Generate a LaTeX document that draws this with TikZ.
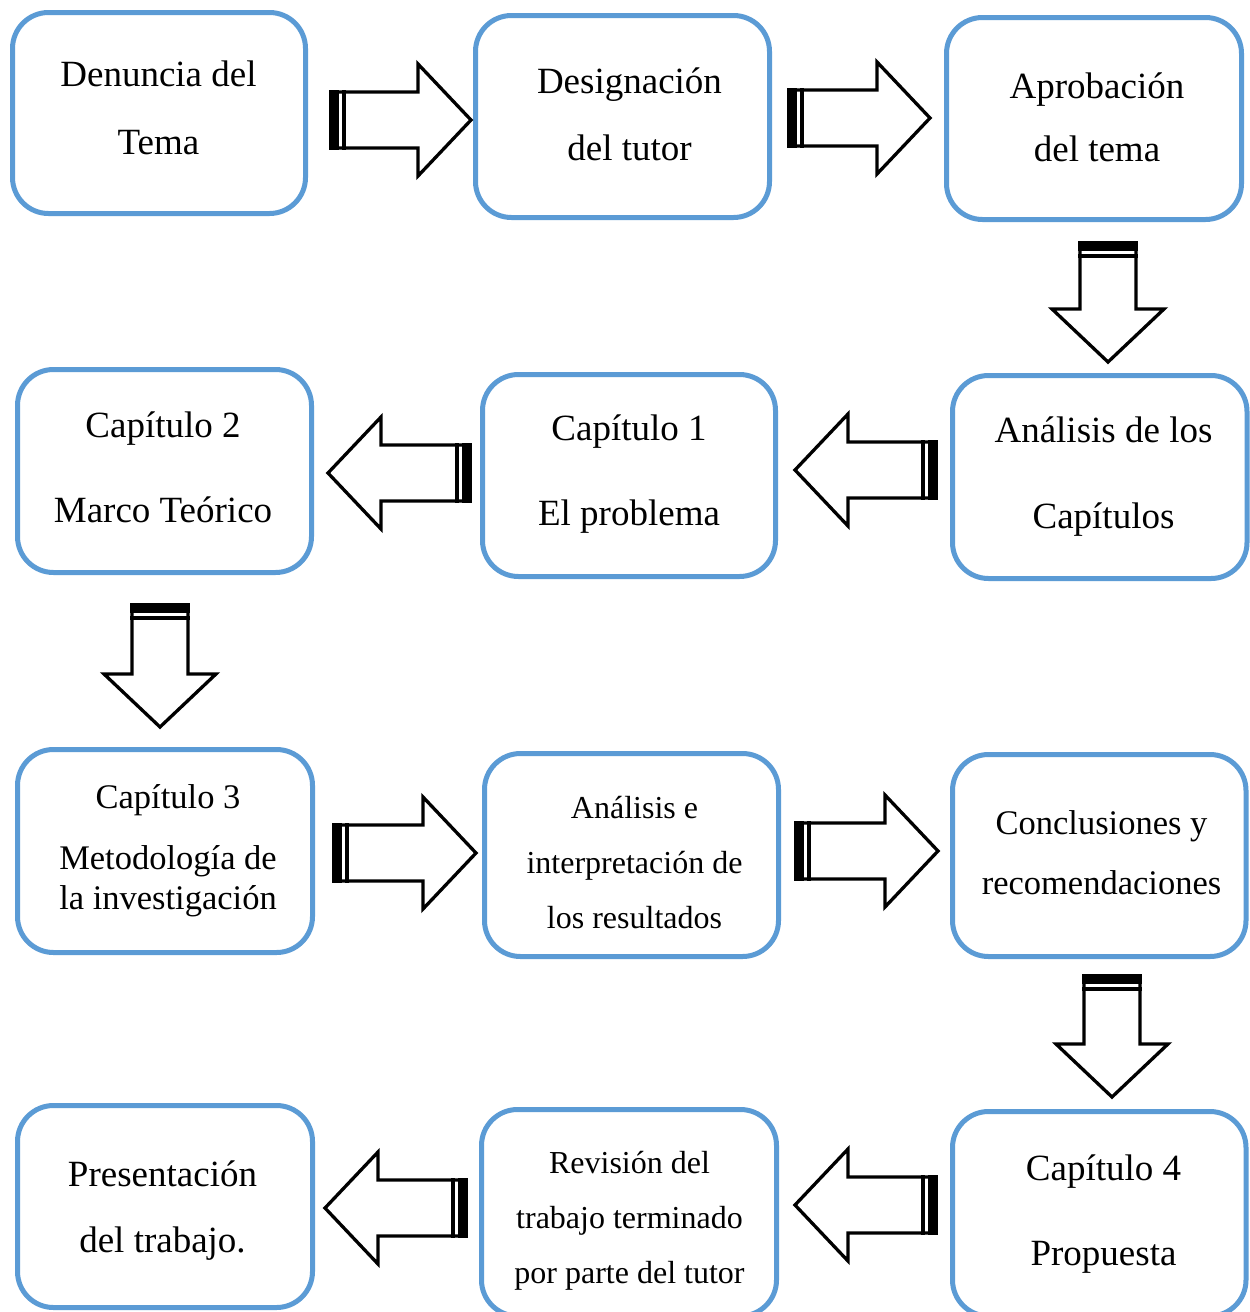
\documentclass[tikz,border=0pt]{standalone}
\usepackage{fontspec}
\setmainfont{Liberation Serif}
\definecolor{boxblue}{HTML}{5B9BD5}
\tikzset{
  box/.style={draw=boxblue, line width=5pt, rounded corners=36pt, fill=white, inner sep=0pt},
  lbl/.style={align=center, inner sep=0pt},
  arrline/.style={draw=black, line width=3.3pt, fill=white, line join=miter, miter limit=10}
}
\newcommand\blockarr[4]{% name, tip, angle, length
  \coordinate (#1) at (#2);
  \begin{scope}[shift={(#1)}, rotate=#3]
    \path[arrline] (0,0) -- (-53,56) -- (-53,28) -- (-#4,28) -- (-#4,-28) -- (-53,-28) -- (-53,-56) -- cycle;
    \fill[black] (-#4-1.6,-29.6) rectangle (-#4+8,29.6);
    \fill[black] (-#4+11,-29.6) rectangle (-#4+15,29.6);
  \end{scope}}
\begin{document}
\begin{tikzpicture}[x=1pt,y=-1pt]
\useasboundingbox (0,0) rectangle (1250,1312);
\fill[white] (0,0) rectangle (1250,1312);
% boxes
\node[box, minimum width=293pt, minimum height=201pt] (b1) at (159,113) {};
\node[box, minimum width=294pt, minimum height=202pt] (b2) at (622.5,116.5) {};
\node[box, minimum width=295pt, minimum height=202pt] (b3) at (1094,118.5) {};
\node[box, minimum width=294pt, minimum height=203pt] (b4) at (164.5,471) {};
\node[box, minimum width=293pt, minimum height=202pt] (b5) at (629,475.5) {};
\node[box, minimum width=294.5pt, minimum height=203pt] (b6) at (1099.75,477) {};
\node[box, minimum width=295pt, minimum height=203pt] (b7) at (165,851) {};
\node[box, minimum width=294pt, minimum height=203pt] (b8) at (631.5,855) {};
\node[box, minimum width=293.5pt, minimum height=202pt] (b9) at (1099.25,855.5) {};
\node[box, minimum width=295pt, minimum height=202pt] (b10) at (165,1206.5) {};
\node[box, minimum width=295pt, minimum height=206.5pt] (b11) at (629,1212.75) {};
\node[box, minimum width=293.5pt, minimum height=204.5pt] (b12) at (1099.25,1213.75) {};
% texts
\node[lbl, font=\fontsize{37}{68}\selectfont] (t1) at (158.5,108) {Denuncia del\\Tema};
\node[lbl, font=\fontsize{37}{67}\selectfont] (t2) at (629.5,114.5) {Designación\\del tutor};
\node[lbl, font=\fontsize{37}{63}\selectfont] (t3) at (1097,117.5) {Aprobación\\del tema};
\node[lbl, font=\fontsize{37}{85}\selectfont] (t4) at (163,467.5) {Capítulo 2\\Marco Teórico};
\node[lbl, font=\fontsize{37}{85}\selectfont] (t5) at (629,474.5) {Capítulo 1\\El problema};
\node[lbl, font=\fontsize{37}{86}\selectfont] (t6) at (1103.5,477) {Análisis de los\\Capítulos};
\node[lbl, font=\fontsize{34.5}{40}\selectfont] (t7) at (168,850.5) {Capítulo 3\\[21pt]Metodología de\\la investigación};
\node[lbl, font=\fontsize{32}{55}\selectfont] (t8) at (634.5,863) {Análisis e\\interpretación de\\los resultados};
\node[lbl, font=\fontsize{34.5}{60}\selectfont] (t9) at (1101.5,853) {Conclusiones y\\recomendaciones};
\node[lbl, font=\fontsize{37}{66}\selectfont] (t10) at (162.5,1211) {Presentación\\del trabajo.};
\node[lbl, font=\fontsize{32}{55}\selectfont] (t11) at (629.5,1220.5) {Revisión del\\trabajo terminado\\por parte del tutor};
\node[lbl, font=\fontsize{37}{85}\selectfont] (t12) at (1103.5,1214.5) {Capítulo 4\\Propuesta};
% block arrows
\blockarr{a1}{471,120}{0}{140}
\blockarr{a2}{930,118}{0}{141}
\blockarr{a3}{1108,362}{-90}{119}
\blockarr{a4}{795,470}{180}{141}
\blockarr{a5}{328,473}{180}{142}
\blockarr{a6}{160,727}{-90}{122}
\blockarr{a7}{476,853}{0}{142}
\blockarr{a8}{938,851}{0}{142}
\blockarr{a9}{1112,1097}{-90}{121}
\blockarr{a10}{795,1205}{180}{141}
\blockarr{a11}{325,1208}{180}{141}
\end{tikzpicture}
\end{document}
